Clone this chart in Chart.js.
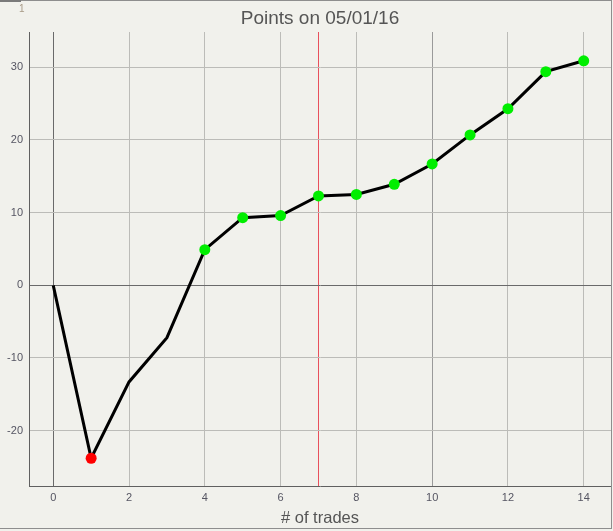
<!DOCTYPE html>
<html>
<head>
<meta charset="utf-8">
<script src="https://cdn.jsdelivr.net/npm/chart.js@4"></script>
<style>
    body { margin: 0; background: #f1f1ec; }
    #box {
        position: absolute; left: 0; top: 0;
        width: 611px; height: 527px;
        border-top: 1px solid #8e8e8e;
        border-right: 1px solid #8e8e8e;
        border-bottom: 1px solid #8e8e8e;
    }
    #tab { position: absolute; left: 0; top: 0; width: 21px; height: 2px; background: #7a7a7a; }
    #num { position: absolute; left: 19px; top: 3px; font: 10px "Liberation Sans", sans-serif; color: #a89a86; }
    canvas { display: block; }
</style>
</head>
<body>
<div id="box"><canvas id="pointsChart" width="611" height="527"></canvas></div>
<div id="tab"></div>
<div id="num">1</div>
<script>
// trade number and running points after each trade
const trades = [0, 1, 2, 3, 4, 5, 6, 7, 8, 9, 10, 11, 12, 13, 14];
const points = [0, -23.8, -13.3, -7.2, 4.9, 9.3, 9.6, 12.3, 12.5, 13.9, 16.7, 20.7, 24.3, 29.4, 30.9];
const xTickLabels = [0, 2, 4, 6, 8, 10, 12, 14];
const yTicks = [-20, -10, 0, 10, 20, 30];
const markerLine = 7;

// green dot on a new high, red dot on a new low
let hi = points[0], lo = points[0];
const dotColors = points.map((p, i) => {
    if (i === 0) return 'rgba(0,0,0,0)';
    if (p > hi) { hi = p; return '#00ee00'; }
    if (p < lo) { lo = p; return '#ff0000'; }
    return 'rgba(0,0,0,0)';
});
const dotRadius = dotColors.map(c => c === 'rgba(0,0,0,0)' ? 0 : 5.5);

const tickFont = { family: '"Liberation Sans", Arial, sans-serif', size: 11 };
const tickColor = '#555562';

const ctx = document.getElementById('pointsChart').getContext('2d');
new Chart(ctx, {
    type: 'line',
    data: {
        datasets: [{
            label: 'Points',
            data: trades.map((t, i) => ({ x: t, y: points[i] })),
            borderColor: '#000000',
            borderWidth: 3,
            tension: 0,
            pointRadius: dotRadius,
            pointHoverRadius: dotRadius,
            pointBackgroundColor: dotColors,
            pointBorderWidth: 0
        }]
    },
    options: {
        responsive: false,
        animation: false,
        devicePixelRatio: 1,
        layout: { padding: 0, autoPadding: false },
        plugins: {
            legend: { display: false },
            tooltip: { enabled: false },
            title: {
                display: true,
                text: 'Points on 05/01/16',
                fullSize: false,
                color: '#555555',
                font: { family: '"Liberation Sans", Arial, sans-serif', size: 19, weight: 'normal' },
                padding: { top: 6, bottom: 2.2 }
            }
        },
        scales: {
            x: {
                type: 'linear',
                min: -0.64,
                max: 14.72,
                afterBuildTicks: axis => { axis.ticks = trades.map(v => ({ value: v })); },
                afterFit: axis => {
                    axis.height = 42;
                    axis.paddingLeft = 0;
                    axis.paddingRight = 0;
                },
                ticks: {
                    autoSkip: false,
                    maxRotation: 0,
                    padding: 5,
                    font: tickFont,
                    color: tickColor,
                    callback: v => xTickLabels.includes(v) ? String(v) : ''
                },
                grid: {
                    drawTicks: false,
                    lineWidth: 1,
                    color: c => {
                        const v = c.tick.value;
                        if (v === markerLine) return '#e8505c';
                        if (!xTickLabels.includes(v)) return 'rgba(0,0,0,0)';
                        if (v === 0) return '#6a6a6a';
                        if (v === 10) return '#9a9a9a';
                        return '#bcbcb8';
                    }
                },
                border: { display: true, color: '#606060', width: 1 },
                title: {
                    display: true,
                    text: '# of trades',
                    color: '#555555',
                    font: { family: '"Liberation Sans", Arial, sans-serif', size: 16.5 },
                    padding: { top: 0, bottom: 0 }
                }
            },
            y: {
                min: -27.62,
                max: 34.86,
                afterBuildTicks: axis => { axis.ticks = yTicks.map(v => ({ value: v })); },
                afterFit: axis => {
                    axis.width = 29;
                    axis.paddingTop = 0;
                    axis.paddingBottom = 0;
                },
                ticks: {
                    padding: 6,
                    font: tickFont,
                    color: tickColor
                },
                grid: {
                    drawTicks: false,
                    lineWidth: 1,
                    color: c => c.tick.value === 0 ? '#6a6a6a' : '#bcbcb8'
                },
                border: { display: true, color: '#606060', width: 1 }
            }
        }
    }
});
</script>
</body>
</html>
